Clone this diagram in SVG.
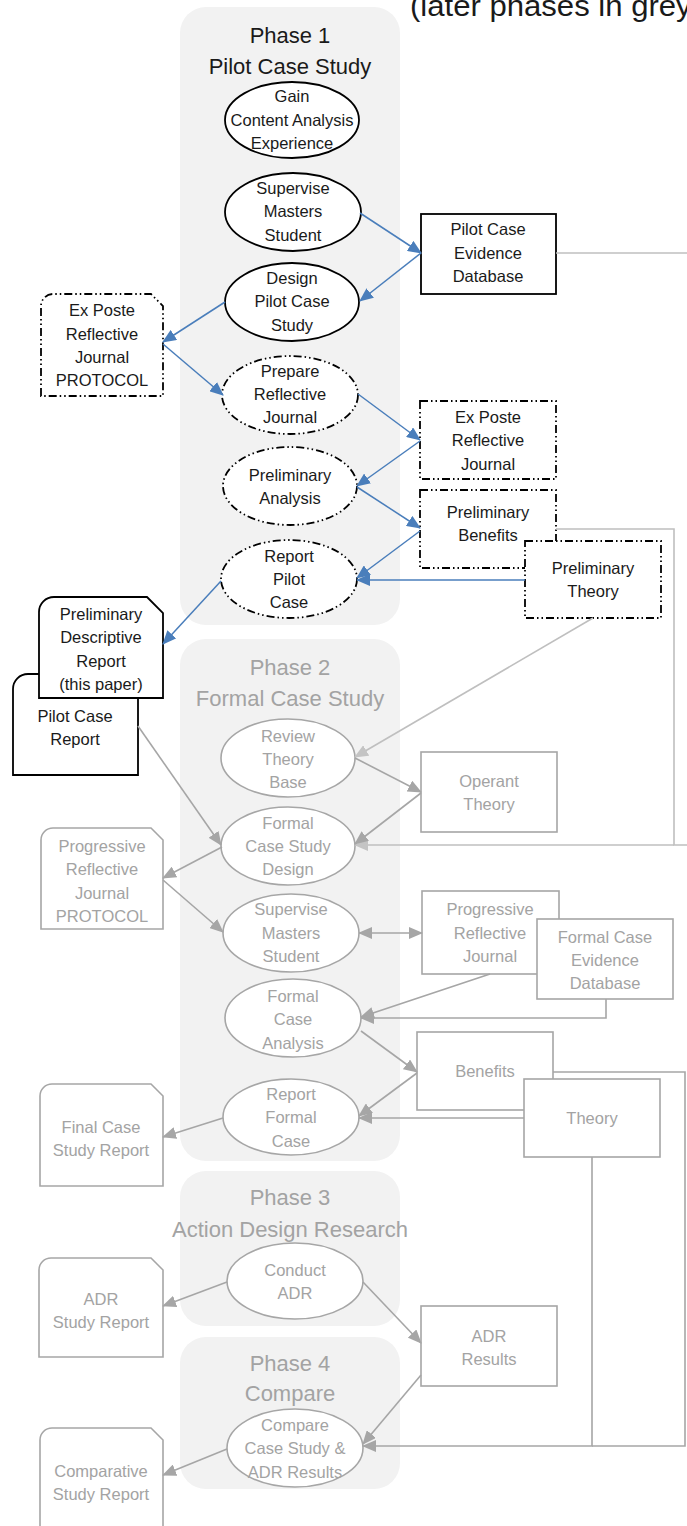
<svg xmlns="http://www.w3.org/2000/svg" width="687" height="1526" viewBox="0 0 687 1526">
<style>
text{font-family:"Liberation Sans",Arial,sans-serif;text-anchor:middle;font-size:16.5px;fill:#1a1a1a}
.g text,text.g{fill:#a3a3a3}
.ph{font-size:22px}
.panel{fill:#f2f2f2;stroke:none}
.k{fill:#fff;stroke:#000;stroke-width:1.8}
.kd{fill:#fff;stroke:#000;stroke-width:1.8;stroke-dasharray:8 3 1.5 3 1.5 3}
.gs{fill:#fff;stroke:#a6a6a6;stroke-width:1.6}
.cb{fill:none;stroke:#4a7ebb;stroke-width:1.5;marker-end:url(#ab)}
.cg{fill:none;stroke:#a6a6a6;stroke-width:1.6}
.cl{fill:none;stroke:#bfbfbf;stroke-width:1.6}
</style>
<defs>
<marker id="ab" viewBox="0 0 14 12" refX="13" refY="6" markerWidth="14" markerHeight="12" markerUnits="userSpaceOnUse" orient="auto"><path d="M0,0 L14,6 L0,12 z" fill="#4a7ebb"/></marker>
<marker id="ag" viewBox="0 0 14 12" refX="13" refY="6" markerWidth="14" markerHeight="12" markerUnits="userSpaceOnUse" orient="auto-start-reverse"><path d="M0,0 L14,6 L0,12 z" fill="#a6a6a6"/></marker>
<marker id="al" viewBox="0 0 14 12" refX="13" refY="6" markerWidth="14" markerHeight="12" markerUnits="userSpaceOnUse" orient="auto"><path d="M0,0 L14,6 L0,12 z" fill="#c4c4c4"/></marker>
</defs>
<rect width="687" height="1526" fill="#fff"/>
<text x="410" y="16" style="text-anchor:start;font-size:29px" textLength="292" lengthAdjust="spacingAndGlyphs">(later phases in grey)</text>

<g id="panels">
<rect id="phase1" class="panel" x="180" y="7" width="220" height="618" rx="26"/>
<rect id="phase2" class="panel" x="180" y="639" width="220" height="522" rx="26"/>
<rect id="phase3" class="panel" x="180" y="1171" width="220" height="155" rx="26"/>
<rect id="phase4" class="panel" x="180" y="1337" width="220" height="152" rx="26"/>
<text class="ph" x="290" y="43">Phase 1</text>
<text class="ph" x="290" y="74">Pilot Case Study</text>
<text class="ph g" x="290" y="675">Phase 2</text>
<text class="ph g" x="290" y="706">Formal Case Study</text>
<text class="ph g" x="290" y="1205">Phase 3</text>
<text class="ph g" x="290" y="1237">Action Design Research</text>
<text class="ph g" x="290" y="1371">Phase 4</text>
<text class="ph g" x="290" y="1401">Compare</text>
</g>

<g id="n-pilotreport"><path class="k" d="M13,775 L13,689 A15,15 0 0 1 28,674 L124,674 L138,688 L138,775 Z"/><text x="75" y="722">Pilot Case</text><text x="75" y="745">Report</text></g>
<g id="n-prelimreport"><path class="k" d="M39,698 L39,612 A15,15 0 0 1 54,597 L147,597 L163,613 L163,698 Z"/><text x="101" y="620">Preliminary</text><text x="101" y="643">Descriptive</text><text x="101" y="667">Report</text><text x="101" y="690">(this paper)</text></g>
<g id="n-protocol1"><path class="kd" d="M41,396 L41,306 A12,12 0 0 1 53,294 L151,294 L163,306 L163,396 Z"/><text x="102" y="316">Ex Poste</text><text x="102" y="340">Reflective</text><text x="102" y="363">Journal</text><text x="102" y="386">PROTOCOL</text></g>

<g id="n-gain"><ellipse class="k" cx="292" cy="120" rx="67" ry="38"/><text x="292" y="102">Gain</text><text x="292" y="126">Content Analysis</text><text x="292" y="149">Experience</text></g>
<g id="n-supervise1"><ellipse class="k" cx="293" cy="212" rx="68" ry="39"/><text x="293" y="194">Supervise</text><text x="293" y="217">Masters</text><text x="293" y="241">Student</text></g>
<g id="n-design"><ellipse class="k" cx="292" cy="302" rx="67" ry="39"/><text x="292" y="284">Design</text><text x="292" y="307">Pilot Case</text><text x="292" y="331">Study</text></g>
<g id="n-prepare"><ellipse class="kd" cx="290" cy="395" rx="68" ry="39"/><text x="290" y="377">Prepare</text><text x="290" y="400">Reflective</text><text x="290" y="423">Journal</text></g>
<g id="n-prelimanalysis"><ellipse class="kd" cx="290" cy="486" rx="67" ry="39"/><text x="290" y="481">Preliminary</text><text x="290" y="504">Analysis</text></g>
<g id="n-reportpilot"><ellipse class="kd" cx="289" cy="579" rx="68" ry="39"/><text x="289" y="562">Report</text><text x="289" y="585">Pilot</text><text x="289" y="608">Case</text></g>

<g id="n-pilotdb"><rect class="k" x="421" y="214" width="135" height="80"/><text x="488" y="235">Pilot Case</text><text x="488" y="259">Evidence</text><text x="488" y="282">Database</text></g>
<g id="n-expostejournal"><rect class="kd" x="420" y="401" width="136" height="78"/><text x="488" y="423">Ex Poste</text><text x="488" y="446">Reflective</text><text x="488" y="470">Journal</text></g>
<g id="n-prelimbenefits"><rect class="kd" x="420" y="490" width="136" height="78"/><text x="488" y="518">Preliminary</text><text x="488" y="541">Benefits</text></g>
<g id="n-prelimtheory"><rect class="kd" x="525" y="541" width="136" height="77"/><text x="593" y="574">Preliminary</text><text x="593" y="597">Theory</text></g>

<g class="g">
<g id="n-protocol2"><path class="gs" d="M41,929 L41,840 A12,12 0 0 1 53,828 L151,828 L163,840 L163,929 Z"/><text x="102" y="852">Progressive</text><text x="102" y="875">Reflective</text><text x="102" y="899">Journal</text><text x="102" y="922">PROTOCOL</text></g>
<g id="n-finalreport"><path class="gs" d="M40,1186 L40,1096 A12,12 0 0 1 52,1084 L151,1084 L163,1096 L163,1186 Z"/><text x="101" y="1133">Final Case</text><text x="101" y="1156">Study Report</text></g>
<g id="n-adrreport"><path class="gs" d="M39,1357 L39,1270 A12,12 0 0 1 51,1258 L151,1258 L163,1270 L163,1357 Z"/><text x="101" y="1305">ADR</text><text x="101" y="1328">Study Report</text></g>
<g id="n-compreport"><path class="gs" d="M40,1540 L40,1440 A12,12 0 0 1 52,1428 L151,1428 L163,1440 L163,1540 Z"/><text x="101" y="1477">Comparative</text><text x="101" y="1500">Study Report</text></g>

<g id="n-review"><ellipse class="gs" cx="288" cy="758" rx="67" ry="39"/><text x="288" y="742">Review</text><text x="288" y="765">Theory</text><text x="288" y="788">Base</text></g>
<g id="n-formaldesign"><ellipse class="gs" cx="288" cy="846" rx="67" ry="39"/><text x="288" y="829">Formal</text><text x="288" y="852">Case Study</text><text x="288" y="875">Design</text></g>
<g id="n-supervise2"><ellipse class="gs" cx="291" cy="933" rx="68" ry="39"/><text x="291" y="915">Supervise</text><text x="291" y="939">Masters</text><text x="291" y="962">Student</text></g>
<g id="n-formalanalysis"><ellipse class="gs" cx="293" cy="1018" rx="68" ry="39"/><text x="293" y="1002">Formal</text><text x="293" y="1025">Case</text><text x="293" y="1049">Analysis</text></g>
<g id="n-reportformal"><ellipse class="gs" cx="291" cy="1117" rx="68" ry="38"/><text x="291" y="1100">Report</text><text x="291" y="1123">Formal</text><text x="291" y="1147">Case</text></g>
<g id="n-conductadr"><ellipse class="gs" cx="295" cy="1281" rx="68" ry="38"/><text x="295" y="1276">Conduct</text><text x="295" y="1299">ADR</text></g>
<g id="n-compare"><ellipse class="gs" cx="295" cy="1448" rx="68" ry="39"/><text x="295" y="1431">Compare</text><text x="295" y="1454">Case Study &amp;</text><text x="295" y="1478">ADR Results</text></g>

<g id="n-operant"><rect class="gs" x="421" y="752" width="136" height="80"/><text x="489" y="787">Operant</text><text x="489" y="810">Theory</text></g>
<g id="n-progjournal"><rect class="gs" x="422" y="891" width="137" height="83"/><text x="490" y="915">Progressive</text><text x="490" y="939">Reflective</text><text x="490" y="962">Journal</text></g>
<g id="n-formaldb"><rect class="gs" x="537" y="919" width="136" height="80"/><text x="605" y="943">Formal Case</text><text x="605" y="966">Evidence</text><text x="605" y="989">Database</text></g>
<g id="n-benefits"><rect class="gs" x="417" y="1032" width="136" height="78"/><text x="485" y="1077">Benefits</text></g>
<g id="n-theory"><rect class="gs" x="524" y="1079" width="136" height="78"/><text x="592" y="1124">Theory</text></g>
<g id="n-adrresults"><rect class="gs" x="421" y="1306" width="136" height="80"/><text x="489" y="1342">ADR</text><text x="489" y="1365">Results</text></g>
</g>

<g id="connectors">
<path class="cb" d="M360,213 L421,253"/>
<path class="cb" d="M421,253 L360,301"/>
<path class="cb" d="M225,302 L163,342"/>
<path class="cb" d="M163,344 L223,395"/>
<path class="cb" d="M358,394 L420,440"/>
<path class="cb" d="M420,441 L357,486"/>
<path class="cb" d="M357,487 L420,528"/>
<path class="cb" d="M420,531 L357,578"/>
<path class="cb" d="M525,580 L357,580"/>
<path class="cb" d="M221,581 L163,644"/>

<path class="cl" d="M556,253 L700,253"/>
<path class="cl" d="M556,529 L674,529 L674,845 L700,845"/>
<path class="cl" d="M674,845 L355,845" marker-end="url(#al)"/>
<path class="cl" d="M593,618 L355,757" marker-end="url(#al)"/>

<path class="cg" d="M355,758 L421,792" marker-end="url(#ag)"/>
<path class="cg" d="M421,793 L355,844" marker-end="url(#ag)"/>
<path class="cg" d="M138,726 L221,845" marker-end="url(#ag)"/>
<path class="cg" d="M222,847 L163,878" marker-end="url(#ag)"/>
<path class="cg" d="M163,880 L223,932" marker-end="url(#ag)"/>
<path class="cg" d="M359,933 L422,933" marker-start="url(#ag)" marker-end="url(#ag)"/>
<path class="cg" d="M490,974 L361,1017" marker-end="url(#ag)"/>
<path class="cg" d="M606,999 L606,1018 L361,1018" marker-end="url(#ag)"/>
<path class="cg" d="M361,1031 L417,1072" marker-end="url(#ag)"/>
<path class="cg" d="M417,1073 L359,1116" marker-end="url(#ag)"/>
<path class="cg" d="M524,1118 L359,1118" marker-end="url(#ag)"/>
<path class="cg" d="M223,1118 L163,1137" marker-end="url(#ag)"/>
<path class="cg" d="M227,1282 L163,1306" marker-end="url(#ag)"/>
<path class="cg" d="M363,1282 L421,1343" marker-end="url(#ag)"/>
<path class="cg" d="M421,1375 L363,1444" marker-end="url(#ag)"/>
<path class="cg" d="M553,1072 L685,1072 L685,1446 L592,1446"/>
<path class="cg" d="M592,1157 L592,1446 L363,1446" marker-end="url(#ag)"/>
<path class="cg" d="M227,1449 L163,1475" marker-end="url(#ag)"/>
</g>
</svg>
